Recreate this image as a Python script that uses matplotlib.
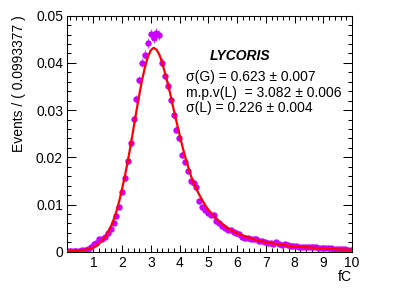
import numpy as np
import matplotlib
matplotlib.use("Agg")
import matplotlib.pyplot as plt
from matplotlib.ticker import MultipleLocator, FixedLocator

plt.rcParams['font.family'] = ['Liberation Sans', 'DejaVu Sans']

# Histogram: 100 bins from 0.0662 to 10 (bin width 0.0993377)
x_low = 0.0662
x_high = 10.0
n_bins = 100
data_values = [
    0.0001, 0.0001, 0.0002, 0.0002, 0.0002, 0.0003, 0.0004, 0.0006, 0.0010, 0.0016,
    0.0018, 0.0026, 0.0027, 0.0031, 0.0040, 0.0048, 0.0060, 0.0076, 0.0094, 0.0127,
    0.0156, 0.0192, 0.0230, 0.0281, 0.0324, 0.0364, 0.0400, 0.0417, 0.0442, 0.0461,
    0.0453, 0.0463, 0.0459, 0.0400, 0.0372, 0.0352, 0.0322, 0.0290, 0.0258, 0.0240,
    0.0205, 0.0190, 0.0172, 0.0150, 0.0146, 0.0138, 0.0108, 0.0094, 0.0088, 0.0082,
    0.0078, 0.0077, 0.0066, 0.0060, 0.0055, 0.0050, 0.0047, 0.0045, 0.0041, 0.0039,
    0.0038, 0.0032, 0.0030, 0.0028, 0.0026, 0.0026, 0.0026, 0.0023, 0.0022, 0.0021,
    0.0019, 0.0018, 0.0016, 0.0020, 0.0016, 0.0015, 0.0016, 0.0014, 0.0013, 0.0012,
    0.0012, 0.0011, 0.0010, 0.0010, 0.0010, 0.0009, 0.0009, 0.0009, 0.0008, 0.0008,
    0.0008, 0.0007, 0.0007, 0.0006, 0.0006, 0.0005, 0.0005, 0.0005, 0.0004, 0.0004,
]
# events in the peak bin (sets statistical error size)
peak_counts = 2100

# Fit curve samples (Landau (x) Gauss)
fit_x = [0.07, 0.4, 0.7, 0.9, 1.0, 1.1, 1.2, 1.3, 1.4, 1.5, 1.6, 1.7, 1.8, 1.9, 2.0,
         2.1, 2.2, 2.3, 2.4, 2.5, 2.6, 2.7, 2.8, 2.9, 3.0, 3.1, 3.2, 3.3, 3.4, 3.5,
         3.6, 3.7, 3.8, 3.9, 4.0, 4.1, 4.2, 4.3, 4.4, 4.5, 4.6, 4.7, 4.8, 4.9, 5.0,
         5.2, 5.4, 5.6, 5.8, 6.0, 6.3, 6.6, 7.0, 7.5, 8.0, 8.5, 9.0, 9.5, 10.0]
fit_y = [0.0002, 0.0002, 0.0004, 0.0007, 0.0009, 0.0012, 0.0017, 0.0023, 0.0030, 0.0040,
         0.0052, 0.0067, 0.0085, 0.0107, 0.0133, 0.0161, 0.0192, 0.0226, 0.0262, 0.0298,
         0.0333, 0.0365, 0.0392, 0.0413, 0.0427, 0.0432, 0.0428, 0.0417, 0.0400, 0.0377,
         0.0354, 0.0328, 0.0300, 0.0274, 0.0248, 0.0223, 0.0200, 0.0180, 0.0160, 0.0145,
         0.0131, 0.0119, 0.0108, 0.0098, 0.0089, 0.0075, 0.0063, 0.0053, 0.0045, 0.0039,
         0.0032, 0.0026, 0.0020, 0.0015, 0.0011, 0.0009, 0.0007, 0.0005, 0.0004]

title_text = "LYCORIS"
fit_lines = ["\u03c3(G) = 0.623 \u00b1 0.007",
             "m.p.v(L)  = 3.082 \u00b1 0.006",
             "\u03c3(L) = 0.226 \u00b1 0.004"]
y_tick_values = [0, 0.01, 0.02, 0.03, 0.04, 0.05]
y_tick_labels = ["0", "0.01", "0.02", "0.03", "0.04", "0.05"]
x_tick_values = [1, 2, 3, 4, 5, 6, 7, 8, 9, 10]

W, H = 415, 300
fig = plt.figure(figsize=(W / 100, H / 100), dpi=100)
ax = fig.add_axes([66.5 / W, 1 - 251.7 / H, (352 - 66.5) / W, (251.7 - 15.7) / H])

edges = np.linspace(x_low, x_high, n_bins + 1)
centers = 0.5 * (edges[:-1] + edges[1:])
vals = np.array(data_values)
scale = max(vals) / peak_counts
errs = np.sqrt(vals * scale)

mcol = '#cc00ff'
ax.errorbar(centers, vals, yerr=errs, fmt='o', color=mcol, ms=4.6, mew=0,
            elinewidth=0.8, capsize=1.2, capthick=0.8, ecolor='#d655ff', zorder=2)
ax.plot(fit_x, fit_y, color='#ff0000', lw=1.6, zorder=3)

ax.set_xlim(x_low, x_high)
ax.set_ylim(0, 0.05)

ax.xaxis.set_major_locator(FixedLocator(x_tick_values))
ax.xaxis.set_minor_locator(MultipleLocator(0.2))
ax.set_yticks(y_tick_values)
ax.set_yticklabels(y_tick_labels)
ax.yaxis.set_minor_locator(MultipleLocator(0.002))

fs = 10
ax.tick_params(axis='x', which='major', direction='in', length=5.2, width=0.75,
               top=True, labelsize=fs, pad=3)
ax.tick_params(axis='x', which='minor', direction='in', length=2.6, width=0.75, top=True)
ax.tick_params(axis='y', which='major', direction='in', length=6.3, width=0.75,
               right=True, labelsize=fs, pad=2.5)
ax.tick_params(axis='y', which='minor', direction='in', length=3.1, width=0.75, right=True)
for s in ax.spines.values():
    s.set_linewidth(0.75)

fig.text(352 / W, 1 - 277 / H, "fC", ha='right', va='center', fontsize=fs)
fig.text(19 / W, 1 - 15 / H, "Events / ( 0.0993377 )", rotation=90,
         ha='center', va='top', fontsize=fs)

fig.text(240 / W, 1 - 56 / H, title_text, ha='center', va='center', fontsize=fs,
         fontweight='bold', fontstyle='italic')
for i, t in enumerate(fit_lines):
    fig.text(186 / W, 1 - (77 + 15.5 * i) / H, t, ha='left', va='center', fontsize=fs)

fig.savefig("out.png", dpi=100)
